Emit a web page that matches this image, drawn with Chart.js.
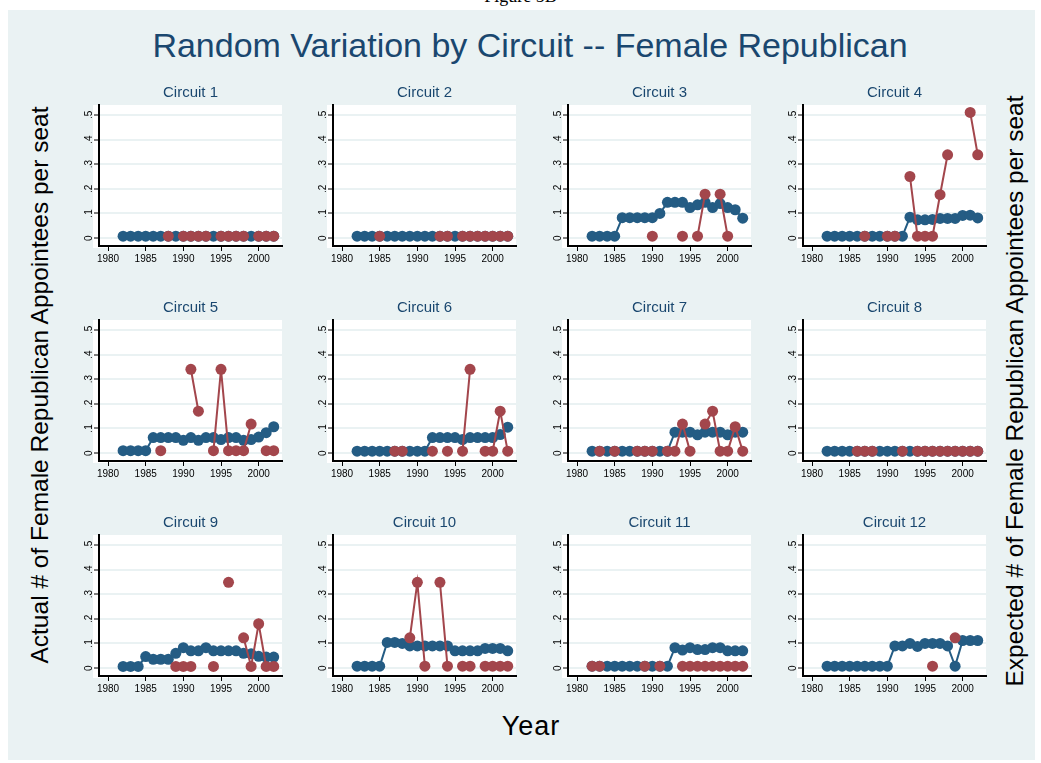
<!DOCTYPE html>
<html>
<head>
<meta charset="utf-8">
<script src="https://cdn.jsdelivr.net/npm/chart.js@4.4.1/dist/chart.umd.min.js"></script>
<style>
  body { margin: 0; background: #ffffff; font-family: "Liberation Sans", Arial, sans-serif; }
  #page { position: relative; width: 1041px; height: 763px; overflow: hidden; }
  #bg { position: absolute; left: 8px; top: 10px; width: 1027px; height: 750px; background: #eaf2f3; }
  .panel { position: absolute; width: 230px; height: 190px; }
  .txt { position: absolute; white-space: nowrap; }
</style>
</head>
<body>
<div id="page">
  <div id="bg"></div>
  <div class="txt" style="left:0;width:1041px;top:-14px;text-align:center;font:18px 'Liberation Serif',serif;color:#000;">Figure 5B</div>
  <div class="txt" style="left:0;width:1060px;top:26px;text-align:center;font-size:34px;color:#1a476f;">Random Variation by Circuit -- Female Republican</div>
  <div class="txt" style="left:40px;top:385px;font-size:24.5px;color:#000;transform:translate(-50%,-50%) rotate(-90deg);">Actual # of Female Republican Appointees per seat</div>
  <div class="txt" style="left:1015px;top:391px;font-size:24.5px;color:#000;transform:translate(-50%,-50%) rotate(-90deg);">Expected # of Female Republican Appointees per seat</div>
  <div class="txt" style="left:0;width:1062px;top:711px;text-align:center;font-size:27px;letter-spacing:1px;color:#000;">Year</div>
</div>
<script>
// years on the x axis
const years = [1982, 1983, 1984, 1985, 1986, 1987, 1988, 1989, 1990, 1991, 1992,
               1993, 1994, 1995, 1996, 1997, 1998, 1999, 2000, 2001, 2002];
const circuits = ['Circuit 1', 'Circuit 2', 'Circuit 3', 'Circuit 4', 'Circuit 5', 'Circuit 6',
                  'Circuit 7', 'Circuit 8', 'Circuit 9', 'Circuit 10', 'Circuit 11', 'Circuit 12'];
const yTicks = [0, 0.1, 0.2, 0.3, 0.4, 0.5];
const yTickLabels = ['0', '.1', '.2', '.3', '.4', '.5'];
const xTicks = [1980, 1985, 1990, 1995, 2000];

// expected (blue) per circuit
const exp1 = [.008,.008,.008,.008,.008,.008,.008,.008,.008,.008,.008,.008,.008,.008,.008,.008,.008,.008,.008,.008,.008];
const exp2 = [.008,.008,.008,.008,.008,.008,.008,.008,.008,.008,.008,.008,.008,.008,.008,.008,.008,.008,.008,.008,.008];
const exp3 = [.008,.008,.008,.008,.083,.083,.083,.083,.083,.10,.145,.145,.145,.124,.135,.145,.124,.14,.124,.115,.081];
const exp4 = [.008,.008,.008,.008,.008,.008,.008,.008,.008,.008,.008,.085,.074,.074,.076,.08,.08,.08,.092,.093,.082];
const exp5 = [.01,.01,.01,.01,.063,.063,.063,.063,.052,.063,.052,.063,.063,.055,.063,.063,.052,.055,.065,.083,.107];
const exp6 = [.008,.008,.008,.008,.008,.008,.008,.008,.008,.008,.063,.063,.063,.063,.055,.063,.063,.063,.063,.075,.105];
const exp7 = [.008,.008,.008,.008,.008,.008,.008,.008,.008,.008,.008,.085,.085,.085,.074,.085,.085,.085,.074,.085,.085];
const exp8 = [.008,.008,.008,.008,.008,.008,.008,.008,.008,.008,.008,.008,.008,.008,.008,.008,.008,.008,.008,.008,.008];
const exp9 = [.007,.007,.007,.047,.036,.036,.036,.06,.083,.07,.07,.083,.07,.07,.07,.07,.06,.058,.048,.045,.045];
const exp10 = [.008,.008,.008,.008,.104,.104,.10,.09,.09,.09,.09,.09,.09,.07,.07,.07,.07,.08,.08,.08,.07];
const exp11 = [.008,.008,.008,.008,.008,.008,.008,.008,.008,.008,.008,.083,.073,.083,.075,.075,.083,.083,.07,.07,.07];
const exp12 = [.008,.008,.008,.008,.008,.008,.008,.008,.008,.09,.09,.10,.088,.10,.10,.10,.09,.008,.112,.112,.112];

// actual (red) per circuit, null = no point
const act1 = [null,null,null,null,null,null,.008,null,.008,.008,.008,.008,null,.008,.008,.008,.008,null,.008,.008,.008];
const act2 = [null,null,null,.008,null,null,null,null,null,null,null,.008,.008,null,.008,.008,.008,.008,.008,.008,.008];
const act3 = [null,null,null,null,null,null,null,null,.008,null,null,null,.008,null,.008,.178,null,.178,.008,null,null];
const act4 = [null,null,null,null,null,.008,null,null,.008,.008,null,.25,.008,.008,.008,.176,.338,null,null,.51,.338];
const act5 = [null,null,null,null,null,.01,null,null,null,.34,.17,null,.01,.34,.01,.01,.01,.118,null,.01,.01];
const act6 = [null,null,null,null,null,.008,.008,null,null,null,.008,null,.008,null,.008,.34,null,.008,.008,.17,.008];
const act7 = [null,.008,null,.008,null,null,.008,.008,.008,null,.008,.008,.118,.008,null,.118,.17,.008,.008,.107,.008];
const act8 = [null,null,null,null,.008,.008,.008,null,null,null,.008,null,.008,.008,.008,.008,.008,.008,.008,.008,.008];
const act9 = [null,null,null,null,null,null,null,.007,.007,.007,null,null,.007,null,.348,null,.123,.007,.18,.007,.007];
const act10 = [null,null,null,null,null,null,null,.123,.348,.008,null,.348,.008,null,.008,.008,null,.008,.008,.008,.008];
const act11 = [.008,.008,null,null,null,null,null,.008,null,.008,null,null,.008,.008,.008,.008,.008,.008,.008,.008,.008];
const act12 = [null,null,null,null,null,null,null,null,null,null,null,null,null,null,.008,null,null,.123,null,null,null];

const expected = [exp1, exp2, exp3, exp4, exp5, exp6, exp7, exp8, exp9, exp10, exp11, exp12];
const actual = [act1, act2, act3, act4, act5, act6, act7, act8, act9, act10, act11, act12];

const blue = '#245c84';
const red = '#a3464c';
const navy = '#1a476f';
const gridCol = '#eaf2f3';

function toPoints(vals) {
  return years.map((yr, i) => ({ x: yr, y: vals[i] }));
}

// white plot region, panel title and rotated y labels
const panelDecor = {
  id: 'panelDecor',
  beforeDraw(chart) {
    const { ctx, chartArea: a } = chart;
    ctx.save();
    ctx.fillStyle = '#ffffff';
    ctx.fillRect(a.left - 6, a.top, a.right - a.left + 6, a.bottom - a.top + 2);
    ctx.restore();
  },
  afterDraw(chart) {
    const { ctx, chartArea: a } = chart;
    const ys = chart.scales.y;
    ctx.save();
    ctx.fillStyle = navy;
    ctx.font = '15px "Liberation Sans", Arial, sans-serif';
    ctx.textAlign = 'center';
    ctx.textBaseline = 'middle';
    ctx.fillText(chart.options.plugins.panelDecor.title, (a.left + a.right) / 2, a.top - 12);
    ctx.fillStyle = '#000';
    ctx.font = '10px "Liberation Sans", Arial, sans-serif';
    yTicks.forEach((v, i) => {
      const py = ys.getPixelForValue(v);
      ctx.save();
      ctx.translate(a.left - 10, py);
      ctx.rotate(-Math.PI / 2);
      ctx.fillText(yTickLabels[i], 0, 0);
      ctx.restore();
    });
    ctx.restore();
  }
};

const colOff = [0, 234, 469, 704];
const rowOff = [0, 215, 430];
const page = document.getElementById('page');

circuits.forEach((name, k) => {
  const wrap = document.createElement('div');
  wrap.className = 'panel';
  wrap.style.left = (60 + colOff[k % 4]) + 'px';
  wrap.style.top = (80 + rowOff[Math.floor(k / 4)]) + 'px';
  const cv = document.createElement('canvas');
  wrap.appendChild(cv);
  page.appendChild(wrap);

  new Chart(cv.getContext('2d'), {
    type: 'line',
    data: {
      datasets: [
        {
          data: toPoints(expected[k]),
          borderColor: blue,
          backgroundColor: blue,
          borderWidth: 2,
          pointRadius: 5.5,
          pointBorderWidth: 0,
          spanGaps: false,
          order: 2
        },
        {
          data: toPoints(actual[k]),
          borderColor: red,
          backgroundColor: red,
          borderWidth: 2,
          pointRadius: 5.5,
          pointBorderWidth: 0,
          spanGaps: false,
          order: 1
        }
      ]
    },
    options: {
      responsive: true,
      maintainAspectRatio: false,
      animation: false,
      events: [],
      layout: { padding: { top: 25, right: 8, left: 0, bottom: 0 } },
      plugins: {
        legend: { display: false },
        tooltip: { enabled: false },
        panelDecor: { title: name }
      },
      scales: {
        x: {
          type: 'linear',
          min: 1978.8,
          max: 2003.1,
          afterFit: s => { s.height = 24; },
          afterBuildTicks: s => { s.ticks = xTicks.map(v => ({ value: v })); },
          ticks: {
            padding: 2,
            color: '#000',
            font: { size: 10, family: '"Liberation Sans", Arial, sans-serif' },
            maxRotation: 0,
            callback: v => String(v)
          },
          grid: { drawOnChartArea: false, drawTicks: true, tickLength: 5, tickColor: '#000', tickWidth: 1 },
          border: { color: '#000', width: 2 }
        },
        y: {
          min: -0.032,
          max: 0.54,
          afterFit: s => { s.width = 39; },
          afterBuildTicks: s => { s.ticks = yTicks.map(v => ({ value: v })); },
          ticks: { display: false },
          grid: { color: gridCol, lineWidth: 2, drawTicks: true, tickLength: 5, tickColor: '#000', tickWidth: 1 },
          border: { color: '#000', width: 2 }
        }
      }
    },
    plugins: [panelDecor]
  });
});
</script>
</body>
</html>
